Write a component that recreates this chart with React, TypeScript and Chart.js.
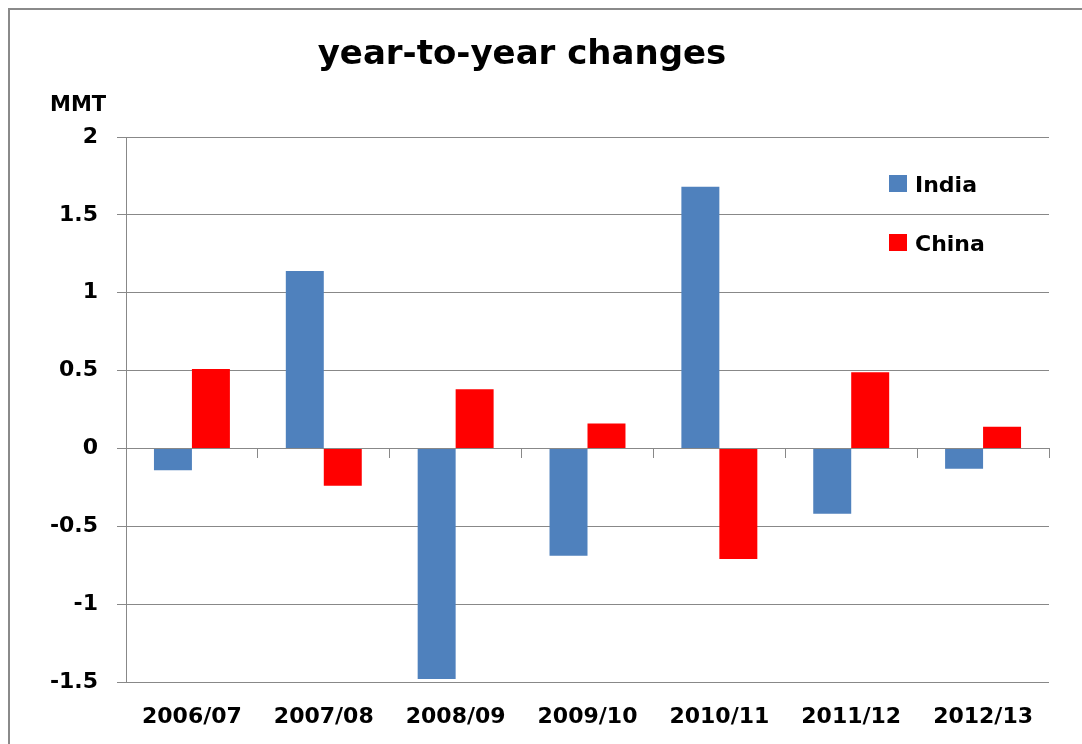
import React, { useEffect, useRef } from "react";
import { Chart, registerables } from "chart.js";

Chart.register(...registerables);

const categories = ["2006/07", "2007/08", "2008/09", "2009/10", "2010/11", "2011/12", "2012/13"];
const indiaValues = [-0.14, 1.14, -1.48, -0.69, 1.68, -0.42, -0.13];
const chinaValues = [0.51, -0.24, 0.38, 0.16, -0.71, 0.49, 0.14];
const seriesNames = ["India", "China"];
const seriesColors = ["#4F81BD", "#FF0000"];
const yMin = -1.5;
const yMax = 2;
const yStep = 0.5;
const chartTitle = "year-to-year changes";
const unitLabel = "MMT";

const FONT = '"DejaVu Sans", sans-serif';
const GRID = "#888888";
const FRAME = "#8a8a8a";

const framePlugin = {
  id: "frame",
  beforeDraw(chart: any) {
    const ctx = chart.ctx;
    ctx.save();
    ctx.fillStyle = "#fff";
    ctx.fillRect(0, 0, chart.width, chart.height);
    ctx.strokeStyle = FRAME;
    ctx.lineWidth = 2;
    ctx.beginPath();
    ctx.moveTo(9, chart.height);
    ctx.lineTo(9, 9);
    ctx.lineTo(chart.width, 9);
    ctx.stroke();
    ctx.restore();
  },
};

const overlayPlugin = {
  id: "overlay",
  afterDraw(chart: any) {
    const ctx = chart.ctx;
    const a = chart.chartArea;
    ctx.save();
    ctx.fillStyle = "#000";
    ctx.textBaseline = "alphabetic";
    ctx.font = `bold 34px ${FONT}`;
    ctx.textAlign = "center";
    ctx.fillText(chartTitle, 522, 64);
    ctx.font = `bold 21px ${FONT}`;
    ctx.textAlign = "left";
    ctx.fillText(unitLabel, 50, 111);
    chart.data.datasets.forEach((ds: any, i: number) => {
      const x = a.right - 160;
      const y = a.top + 38 + i * 59;
      ctx.fillStyle = ds.backgroundColor;
      ctx.fillRect(x, y, 18, 17);
      ctx.fillStyle = "#000";
      ctx.font = `bold 22px ${FONT}`;
      ctx.textAlign = "left";
      ctx.fillText(ds.label, x + 26, y + 17);
    });
    ctx.restore();
  },
};

export default function App() {
  const ref = useRef<HTMLCanvasElement>(null);

  useEffect(() => {
    document.documentElement.style.overflow = "hidden";
    document.body.style.overflow = "hidden";
    document.body.style.margin = "0";
    const chart = new Chart(ref.current as HTMLCanvasElement, {
      type: "bar",
      data: {
        labels: categories,
        datasets: [
          {
            label: seriesNames[0],
            data: indiaValues,
            backgroundColor: seriesColors[0],
            categoryPercentage: 0.576,
            barPercentage: 1,
            xAxisID: "x",
          },
          {
            label: seriesNames[1],
            data: chinaValues,
            backgroundColor: seriesColors[1],
            categoryPercentage: 0.576,
            barPercentage: 1,
            xAxisID: "x",
          },
        ],
      },
      options: {
        responsive: false,
        animation: false,
        layout: { padding: { top: 137, right: 33, left: 0, bottom: 0 } },
        plugins: {
          legend: { display: false },
          title: { display: false },
          tooltip: { enabled: false },
        },
        scales: {
          x: {
            type: "category",
            position: "bottom",
            offset: true,
            grid: { display: false, drawTicks: false },
            border: { display: false },
            ticks: {
              color: "#000",
              font: { family: FONT, size: 22, weight: "bold" },
              padding: 22,
              maxRotation: 0,
              autoSkip: false,
            },
            afterFit: (s: any) => {
              s.height = 62;
            },
          },
          xz: {
            type: "category",
            position: { y: 0 },
            offset: true,
            grid: {
              display: true,
              drawOnChartArea: false,
              drawTicks: true,
              tickLength: 9,
              offset: true,
              color: GRID,
            },
            border: { display: true, color: GRID },
            ticks: { display: false },
            afterFit: (s: any) => {
              s.height = 0;
            },
          },
          y: {
            min: yMin,
            max: yMax,
            ticks: {
              stepSize: yStep,
              color: "#000",
              font: { family: FONT, size: 22, weight: "bold" },
              padding: 19,
              callback: (v: any) => String(Number(v)),
            },
            grid: { color: GRID, tickLength: 9 },
            border: { display: true, color: GRID },
            afterFit: (s: any) => {
              s.width = 126;
            },
          },
        },
      },
      plugins: [framePlugin, overlayPlugin],
    } as any);
    return () => chart.destroy();
  }, []);

  return (
    <div style={{ width: 1082, height: 744 }}>
      <canvas ref={ref} width={1082} height={744} style={{ display: "block" }} />
    </div>
  );
}
